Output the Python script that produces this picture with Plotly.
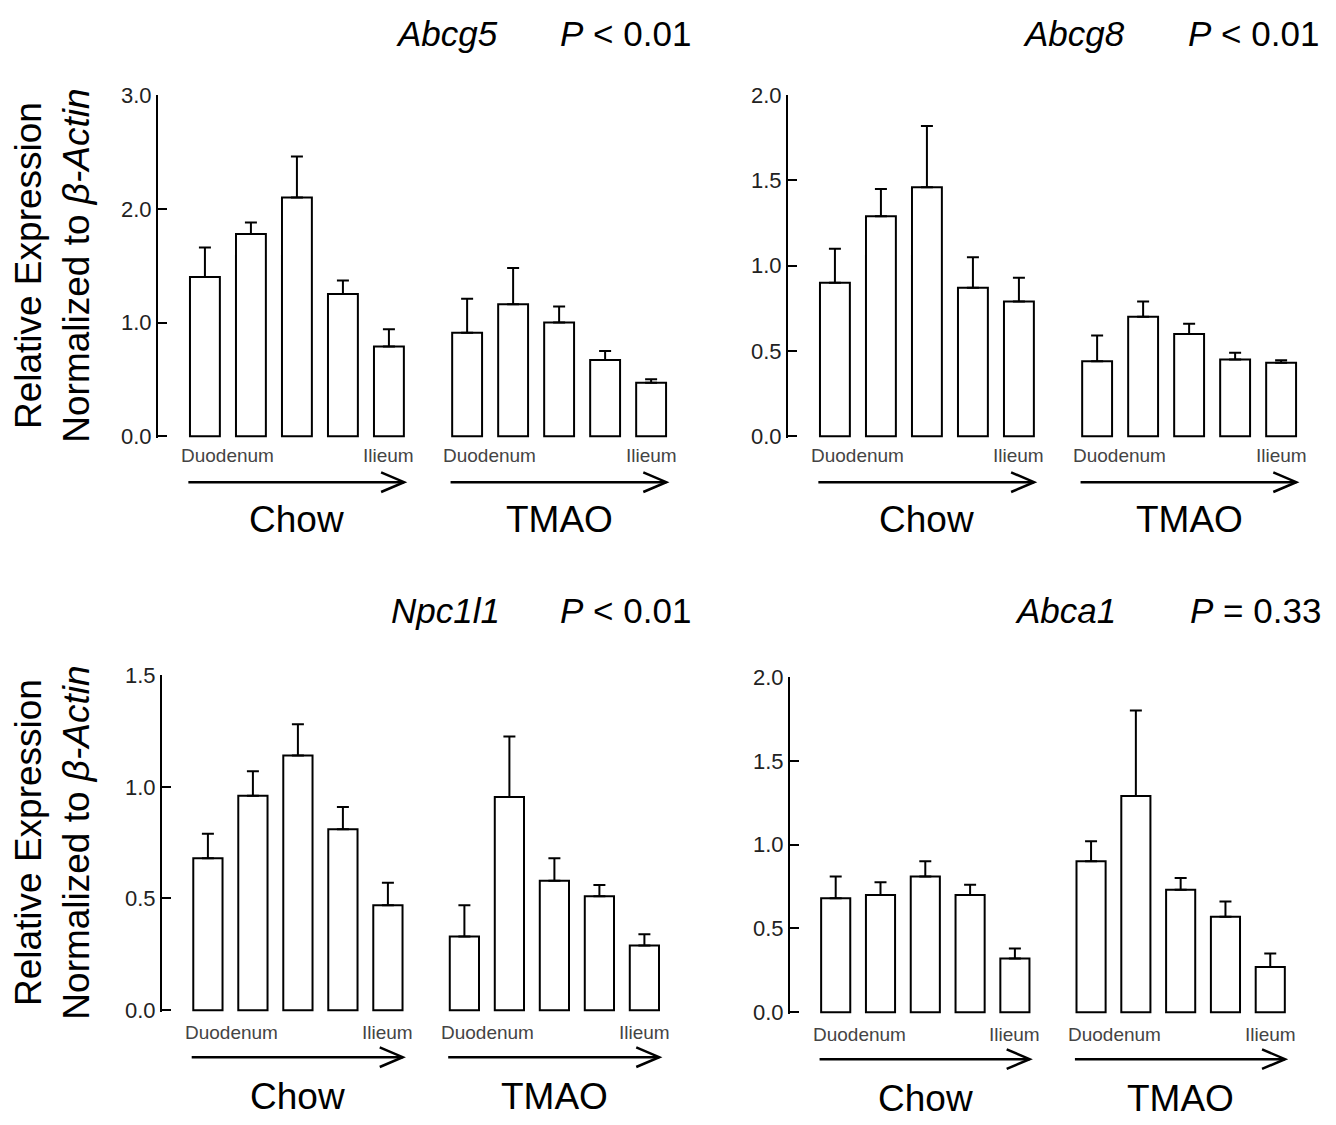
import plotly.graph_objects as go

# ---------------- data ----------------
segment_labels = ["Duodenum", "", "", "", "Ilieum"]
group_labels = ["Chow", "TMAO"]
chow_pos = [0, 1, 2, 3, 4]
tmao_pos = [5.7, 6.7, 7.7, 8.7, 9.7]

genes = ["Abcg5", "Abcg8", "Npc1l1", "Abca1"]
p_texts = ["<i>P</i> &lt; 0.01", "<i>P</i> &lt; 0.01", "<i>P</i> &lt; 0.01", "<i>P</i> = 0.33"]

abcg5_chow = [1.40, 1.78, 2.10, 1.25, 0.79]
abcg5_chow_sem = [0.26, 0.10, 0.36, 0.12, 0.15]
abcg5_tmao = [0.91, 1.16, 1.00, 0.67, 0.47]
abcg5_tmao_sem = [0.30, 0.32, 0.14, 0.08, 0.03]

abcg8_chow = [0.90, 1.29, 1.46, 0.87, 0.79]
abcg8_chow_sem = [0.20, 0.16, 0.36, 0.18, 0.14]
abcg8_tmao = [0.44, 0.70, 0.60, 0.45, 0.43]
abcg8_tmao_sem = [0.15, 0.09, 0.06, 0.04, 0.015]

npc1l1_chow = [0.68, 0.96, 1.14, 0.81, 0.47]
npc1l1_chow_sem = [0.11, 0.11, 0.14, 0.10, 0.10]
npc1l1_tmao = [0.33, 0.955, 0.58, 0.51, 0.29]
npc1l1_tmao_sem = [0.14, 0.27, 0.10, 0.05, 0.05]

abca1_chow = [0.68, 0.70, 0.81, 0.70, 0.32]
abca1_chow_sem = [0.13, 0.075, 0.09, 0.06, 0.06]
abca1_tmao = [0.90, 1.29, 0.73, 0.57, 0.27]
abca1_tmao_sem = [0.12, 0.51, 0.07, 0.09, 0.08]

y_max = [3.0, 2.0, 1.5, 2.0]
y_dtick = [1.0, 0.5, 0.5, 0.5]

# ---------------- layout geometry (pixels) ----------------
W, H = 1336, 1125
FONT = "Liberation Sans, Arial, Helvetica, sans-serif"

panel_geo = [
    dict(axis_px=158.0, unit=46.0, zero_py=433, top_py=85, title_py=22, gene_right=500, p_right=693),
    dict(axis_px=788.0, unit=46.0, zero_py=433, top_py=85, title_py=22, gene_right=1127, p_right=1321),
    dict(axis_px=162.0, unit=45.0, zero_py=1019, top_py=677, title_py=611, gene_right=502, p_right=693),
    dict(axis_px=790.0, unit=44.8, zero_py=1021, top_py=679, title_py=611, gene_right=1118, p_right=1323),
]
row_offsets = [dict(seg=20, arrow=47, group=85), dict(seg=20, arrow=47, group=85),
               dict(seg=23, arrow=48, group=88), dict(seg=23, arrow=48, group=88)]
X_MIN, X_MAX = -1.02, 10.4
BAR_W = 0.65

series = [
    (abcg5_chow, abcg5_chow_sem, abcg5_tmao, abcg5_tmao_sem),
    (abcg8_chow, abcg8_chow_sem, abcg8_tmao, abcg8_tmao_sem),
    (npc1l1_chow, npc1l1_chow_sem, npc1l1_tmao, npc1l1_tmao_sem),
    (abca1_chow, abca1_chow_sem, abca1_tmao, abca1_tmao_sem),
]


def px_x(px):
    return px / W


def px_y(py):
    return 1 - py / H


fig = go.Figure()
annotations = []
shapes = []
layout_axes = {}

for i, (geo, data) in enumerate(zip(panel_geo, series)):
    n = i + 1
    xa = "x" if n == 1 else f"x{n}"
    ya = "y" if n == 1 else f"y{n}"
    c_mean, c_sem, t_mean, t_sem = data

    for pos, mean, sem in ((chow_pos, c_mean, c_sem), (tmao_pos, t_mean, t_sem)):
        fig.add_trace(go.Bar(
            x=pos, y=mean, width=BAR_W, xaxis=xa, yaxis=ya,
            marker=dict(color="white", line=dict(color="black", width=2)),
            error_y=dict(type="data", array=sem, arrayminus=[0] * len(sem), symmetric=False,
                         color="black", thickness=2, width=6),
            hoverinfo="skip", showlegend=False,
        ))

    # axes
    x0 = geo["axis_px"]
    x1 = x0 + (X_MAX - X_MIN) * geo["unit"]
    pad = 2.0
    ybot_px = geo["zero_py"] + pad
    ytop_px = geo["top_py"]
    ymin = -pad / (geo["zero_py"] - ytop_px) * y_max[i]
    xkey = "xaxis" if n == 1 else f"xaxis{n}"
    ykey = "yaxis" if n == 1 else f"yaxis{n}"
    layout_axes[xkey] = dict(domain=[px_x(x0), px_x(x1)], range=[X_MIN, X_MAX], anchor=ya,
                             visible=False, fixedrange=True)
    nt = int(round(y_max[i] / y_dtick[i]))
    tv = [k * y_dtick[i] for k in range(nt + 1)]
    layout_axes[ykey] = dict(domain=[px_y(ybot_px), px_y(ytop_px)], range=[ymin, y_max[i]],
                             anchor=xa, showline=True, linecolor="black", linewidth=2,
                             ticks="inside", ticklen=9, tickwidth=2, tickcolor="black",
                             tickvals=tv, ticktext=[f"{v:.1f}" for v in tv],
                             tickfont=dict(family=FONT, size=22, color="#222"),
                             showgrid=False, zeroline=False, fixedrange=True)

    # titles
    ty = px_y(geo["title_py"])
    annotations.append(dict(text=f"<i>{genes[i]}</i>", x=px_x(geo["gene_right"]), y=ty,
                            xref="paper", yref="paper", xanchor="right", yanchor="middle",
                            showarrow=False, font=dict(family=FONT, size=35, color="black")))
    annotations.append(dict(text=p_texts[i], x=px_x(geo["p_right"]), y=ty,
                            xref="paper", yref="paper", xanchor="right", yanchor="middle",
                            showarrow=False, font=dict(family=FONT, size=35, color="black")))

    # segment labels, arrows, group labels
    off = row_offsets[i]
    seg_y = px_y(geo["zero_py"] + off["seg"])
    arr_y = px_y(geo["zero_py"] + off["arrow"])
    grp_y = px_y(geo["zero_py"] + off["group"])
    head_len = 23.0 / geo["unit"]
    head_h = 10.0 / H
    for pos, glab in ((chow_pos, group_labels[0]), (tmao_pos, group_labels[1])):
        for p, lab in zip(pos, segment_labels):
            if not lab:
                continue
            if lab == segment_labels[0]:
                annotations.append(dict(text=lab, x=p - 0.56, y=seg_y, xref=xa, yref="paper",
                                        xanchor="left", yanchor="middle", showarrow=False,
                                        font=dict(family=FONT, size=19, color="#444")))
            else:
                annotations.append(dict(text=lab, x=p, y=seg_y, xref=xa, yref="paper",
                                        xanchor="center", yanchor="middle", showarrow=False,
                                        font=dict(family=FONT, size=19, color="#444")))
        a0 = pos[0] - 0.36
        a1 = pos[-1] + 0.33
        shapes.append(dict(type="line", xref=xa, yref="paper", x0=a0, x1=a1, y0=arr_y, y1=arr_y,
                           line=dict(color="black", width=2.5)))
        shapes.append(dict(type="path", xref=xa, yref="paper",
                           path=f"M {a1 - head_len},{arr_y + head_h} L {a1},{arr_y} L {a1 - head_len},{arr_y - head_h}",
                           line=dict(color="black", width=2.5)))
        gx = (pos[0] + pos[-1]) / 2
        annotations.append(dict(text=glab, x=gx, y=grp_y, xref=xa, yref="paper",
                                xanchor="center", yanchor="middle", showarrow=False,
                                font=dict(family=FONT, size=37, color="black")))

# y-axis titles (left column)
for geo in (panel_geo[0], panel_geo[2]):
    cy = px_y((geo["zero_py"] + geo["top_py"]) / 2)
    annotations.append(dict(text="Relative Expression<br>Normalized to <i>β-Actin</i>",
                            x=px_x(53), y=cy, xref="paper", yref="paper",
                            xanchor="center", yanchor="middle", textangle=-90, showarrow=False,
                            font=dict(family=FONT, size=37, color="black")))

fig.update_layout(width=W, height=H, margin=dict(l=0, r=0, t=0, b=0),
                  paper_bgcolor="white", plot_bgcolor="white", showlegend=False,
                  barmode="overlay", annotations=annotations, shapes=shapes, **layout_axes)

fig.write_html("out.html")
